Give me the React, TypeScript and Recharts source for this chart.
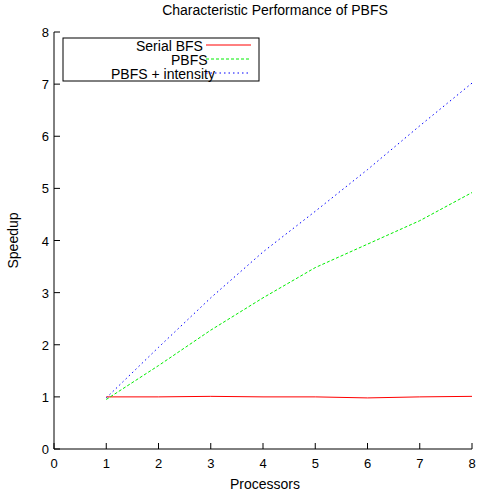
import { LineChart, Line, XAxis, YAxis } from "recharts";

// Speedup vs. number of processors
const processors = [1, 2, 3, 4, 5, 6, 7, 8];
const serialBfs = [1.0, 1.0, 1.01, 1.0, 1.0, 0.98, 1.0, 1.01];
const pbfs = [0.95, 1.6, 2.28, 2.9, 3.48, 3.93, 4.38, 4.92];
const pbfsIntensity = [0.98, 1.95, 2.9, 3.78, 4.56, 5.36, 6.2, 7.02];

const axisTicks = [0, 1, 2, 3, 4, 5, 6, 7, 8];

const seriesNames = ["Serial BFS", "PBFS", "PBFS + intensity"];
const seriesColors = ["#ff0000", "#00ee00", "#0000ff"];
const seriesDash = [undefined, "3 2", "1.5 3"];
const seriesKeys = ["serial", "pbfs", "intensity"];

const data = processors.map((p, i) => ({
  p,
  serial: serialBfs[i],
  pbfs: pbfs[i],
  intensity: pbfsIntensity[i],
}));

const FONT = "'Liberation Sans', Arial, Helvetica, sans-serif";
const TICK = 6;
// legend text start positions (gnuplot's right-justified keys drift a bit)
const legendTextX = [136, 171, 111];

const BottomTick = ({ x, y, payload }: any) => (
  <g>
    <line x1={x} x2={x} y1={y} y2={y - TICK} stroke="#000" />
    <text x={x} y={y + 19} textAnchor="middle" fontSize={13} fontFamily={FONT} fill="#000">
      {payload.value}
    </text>
  </g>
);

const TopTick = ({ x, y }: any) => (
  <line x1={x} x2={x} y1={y} y2={y + TICK} stroke="#000" />
);

const LeftTick = ({ x, y, payload }: any) => (
  <g>
    <line x1={x} x2={x + TICK} y1={y} y2={y} stroke="#000" />
    <text x={x - 5} y={y + 5} textAnchor="end" fontSize={13} fontFamily={FONT} fill="#000">
      {payload.value}
    </text>
  </g>
);

const RightTick = ({ x, y }: any) => (
  <line x1={x} x2={x - TICK} y1={y} y2={y} stroke="#000" />
);

export default function App() {
  return (
    <div style={{ position: "absolute", left: 0, top: 0, width: 479, height: 493, background: "#fff" }}>
      <LineChart
        width={479}
        height={493}
        data={data}
        margin={{ top: 32, right: 7, bottom: 0, left: 0 }}
      >
        <XAxis
          xAxisId="bottom"
          dataKey="p"
          type="number"
          domain={[0, 8]}
          ticks={axisTicks}
          height={44}
          tickSize={0}
          tickMargin={0}
          tickLine={false}
          axisLine={{ stroke: "#000" }}
          tick={<BottomTick />}
          interval={0}
          label={(props: any) => {
            const vb = props.viewBox;
            return (
              <text x={vb.x + vb.width / 2 + 2} y={489} textAnchor="middle" fontSize={14} fontFamily={FONT} fill="#000">
                Processors
              </text>
            );
          }}
        />
        <XAxis
          xAxisId="top"
          orientation="top"
          dataKey="p"
          type="number"
          domain={[0, 8]}
          ticks={axisTicks}
          height={0}
          tickSize={0}
          tickMargin={0}
          tickLine={false}
          axisLine={{ stroke: "#000" }}
          tick={<TopTick />}
          interval={0}
        />
        <YAxis
          yAxisId="left"
          type="number"
          domain={[0, 8]}
          ticks={axisTicks}
          width={54}
          tickSize={0}
          tickMargin={0}
          tickLine={false}
          axisLine={{ stroke: "#000" }}
          tick={<LeftTick />}
          interval={0}
          label={(props: any) => {
            const vb = props.viewBox;
            const cy = vb.y + vb.height / 2;
            return (
              <text
                x={18}
                y={cy}
                transform={`rotate(-90 18 ${cy})`}
                textAnchor="middle"
                fontSize={14}
                fontFamily={FONT}
                fill="#000"
              >
                Speedup
              </text>
            );
          }}
        />
        <YAxis
          yAxisId="right"
          orientation="right"
          type="number"
          domain={[0, 8]}
          ticks={axisTicks}
          width={0}
          tickSize={0}
          tickMargin={0}
          tickLine={false}
          axisLine={{ stroke: "#000" }}
          tick={<RightTick />}
          interval={0}
        />
        {seriesKeys.map((k, i) => (
          <Line
            key={k}
            xAxisId="bottom"
            yAxisId="left"
            type="linear"
            dataKey={k}
            name={seriesNames[i]}
            stroke={seriesColors[i]}
            strokeWidth={1}
            strokeDasharray={seriesDash[i]}
            dot={false}
            activeDot={false}
            isAnimationActive={false}
          />
        ))}
      </LineChart>
      <svg
        width={479}
        height={493}
        style={{ position: "absolute", left: 0, top: 0, pointerEvents: "none" }}
      >
        <text x={275} y={15} textAnchor="middle" fontSize={14} fontFamily={FONT} fill="#000">
          Characteristic Performance of PBFS
        </text>
        <rect x={63} y={38} width={196} height={43} fill="#fff" stroke="#000" />
        {seriesNames.map((name, i) => (
          <g key={name}>
            <text
              x={legendTextX[i]}
              y={50.5 + i * 14}
              fontSize={14}
              fontFamily={FONT}
              fill="#000"
            >
              {name}
            </text>
            <line
              x1={206}
              x2={251}
              y1={45 + i * 14}
              y2={45 + i * 14}
              stroke={seriesColors[i]}
              strokeDasharray={seriesDash[i]}
            />
          </g>
        ))}
      </svg>
    </div>
  );
}
